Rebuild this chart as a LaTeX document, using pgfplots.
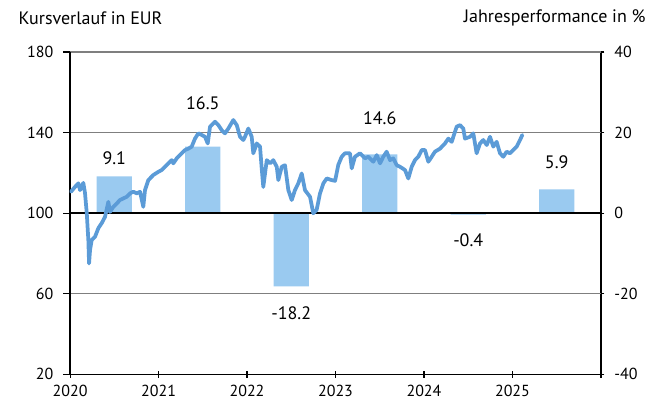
\documentclass[border=0pt]{standalone}
\usepackage{pgfplots}
\pgfplotsset{compat=1.18}
\usepackage{fontspec}
\setmainfont{PT Sans}
\definecolor{barblue}{HTML}{9ACAF0}
\definecolor{lineblue}{HTML}{5B9BD7}
\definecolor{gridgray}{HTML}{7F7F7F}
\begin{document}
\begin{tikzpicture}
\pgfplotsset{
  every axis/.append style={
    width=398pt, height=241.5pt, scale only axis,
    xmin=2020, xmax=2026,
    font=\fontsize{12}{14}\selectfont,
    /pgf/number format/assume math mode=true,
    tick style={black, line width=0.8pt},
    major tick length=5pt,
  }
}
% bars: right axis
\begin{axis}[
  axis x line=none,
  axis y line*=right,
  ymin=-40, ymax=40,
  ytick={-40,-20,0,20,40},
  y axis line style={line width=0.9pt},
  ytick align=center,
  yticklabel style={/pgf/number format/fixed, xshift=4pt},
  ybar, bar width=0.4,
  clip=false,
]
\addplot[fill=barblue, draw=none] coordinates {
 (2020.5,9.1) (2021.5,16.5) (2022.5,-18.2) (2023.5,14.6) (2024.5,-0.4) (2025.5,5.9)};
\begin{scope}[every node/.style={font=\fontsize{13.5}{16}\selectfont}]
\node at (axis cs:2020.5,13.7) {9.1};
\node at (axis cs:2021.5,27.3) {16.5};
\node at (axis cs:2022.5,-24.8) {-18.2};
\node at (axis cs:2023.5,23.6) {14.6};
\node at (axis cs:2024.5,-6.7) {-0.4};
\node at (axis cs:2025.5,12.7) {5.9};
\node[anchor=east] at ([xshift=37pt,yshift=25.5pt]rel axis cs:1,1) {Jahresperformance in \%};
\end{scope}
\path ([xshift=-52.5pt,yshift=39pt]rel axis cs:0,1) rectangle ([xshift=45.75pt,yshift=-27.75pt]rel axis cs:1,0);
\end{axis}
% price line: left axis
\begin{axis}[
  axis y line*=left,
  axis x line*=bottom,
  ymin=20, ymax=180,
  ytick={20,60,100,140,180},
  xtick={2020,2021,2022,2023,2024,2025,2026},
  xticklabels={2020,2021,2022,2023,2024,2025,},
  x axis line style={line width=0.9pt},
  y axis line style={line width=0.9pt},
  xtick align=center,
  ytick align=outside,
  yticklabel style={xshift=-4pt},
  xticklabel style={yshift=-2pt},
  ymajorgrids,
  grid style={gridgray, line width=0.9pt},
  extra y ticks={100},
  extra y tick labels={},
  extra y tick style={grid style={black, line width=0.9pt}, major tick length=0pt},
  clip=false,
]
\addplot[lineblue, line width=2.8pt, line join=round, line cap=round] coordinates {
(2020.011,110.6) (2020.056,113.0) (2020.094,114.8) (2020.113,111.4) (2020.150,115.0)
(2020.169,110.0) (2020.189,100.0) (2020.207,86.6) (2020.215,75.0) (2020.226,81.6)
(2020.245,86.6) (2020.282,88.2) (2020.320,92.5) (2020.358,95.0) (2020.395,98.1)
(2020.433,105.6) (2020.452,100.6) (2020.489,103.1) (2020.528,104.8) (2020.565,106.5)
(2020.602,107.3) (2020.641,108.1) (2020.678,109.8) (2020.715,110.6) (2020.754,109.8)
(2020.791,110.6) (2020.828,103.1) (2020.847,111.4) (2020.885,116.4) (2020.941,118.9)
(2020.998,120.5) (2021.036,121.4) (2021.111,124.7) (2021.149,126.3) (2021.167,124.7)
(2021.206,127.2) (2021.262,129.7) (2021.299,131.3) (2021.337,132.0) (2021.375,133.0)
(2021.412,137.0) (2021.450,139.6) (2021.488,138.8) (2021.525,137.9) (2021.556,134.6)
(2021.582,142.9) (2021.638,145.4) (2021.676,143.7) (2021.714,141.2) (2021.751,139.6)
(2021.789,142.0) (2021.845,146.2) (2021.884,143.7) (2021.921,137.9) (2021.958,136.3)
(2021.977,137.9) (2022.015,142.0) (2022.053,137.9) (2022.071,129.7) (2022.110,134.6)
(2022.147,133.0) (2022.166,122.2) (2022.184,113.0) (2022.223,126.3) (2022.260,124.7)
(2022.297,126.3) (2022.336,123.0) (2022.354,116.4) (2022.392,123.0) (2022.429,123.8)
(2022.467,111.4) (2022.505,106.5) (2022.542,111.4) (2022.580,114.8) (2022.618,119.7)
(2022.655,111.4) (2022.712,108.1) (2022.749,99.9) (2022.787,101.6) (2022.825,109.8)
(2022.863,114.8) (2022.901,117.2) (2022.956,116.4) (2022.995,116.0) (2023.032,124.0)
(2023.070,128.0) (2023.107,129.7) (2023.164,129.7) (2023.183,122.2) (2023.220,128.0)
(2023.277,129.7) (2023.333,127.2) (2023.371,128.0) (2023.427,125.5) (2023.466,128.8)
(2023.503,124.7) (2023.540,128.0) (2023.578,130.5) (2023.616,126.3) (2023.653,127.2)
(2023.692,123.8) (2023.729,123.0) (2023.785,121.4) (2023.823,117.2) (2023.861,123.0)
(2023.898,126.3) (2023.936,128.0) (2023.974,131.3) (2024.011,131.3) (2024.049,125.5)
(2024.087,128.0) (2024.124,130.5) (2024.181,132.0) (2024.237,134.6) (2024.275,137.0)
(2024.313,135.4) (2024.369,142.9) (2024.407,143.7) (2024.444,142.0) (2024.463,137.0)
(2024.520,137.9) (2024.557,139.6) (2024.595,129.7) (2024.633,134.6) (2024.670,136.3)
(2024.709,133.8) (2024.746,137.9) (2024.783,133.0) (2024.821,135.4) (2024.859,129.7)
(2024.896,128.0) (2024.934,130.5) (2024.972,129.7) (2025.009,131.3) (2025.047,133.0)
(2025.085,136.3) (2025.111,138.8)
};
\node[anchor=west, font=\fontsize{13.5}{16}\selectfont] at ([xshift=-42pt,yshift=25.5pt]rel axis cs:0,1) {Kursverlauf in EUR};
\end{axis}
\end{tikzpicture}
\end{document}
